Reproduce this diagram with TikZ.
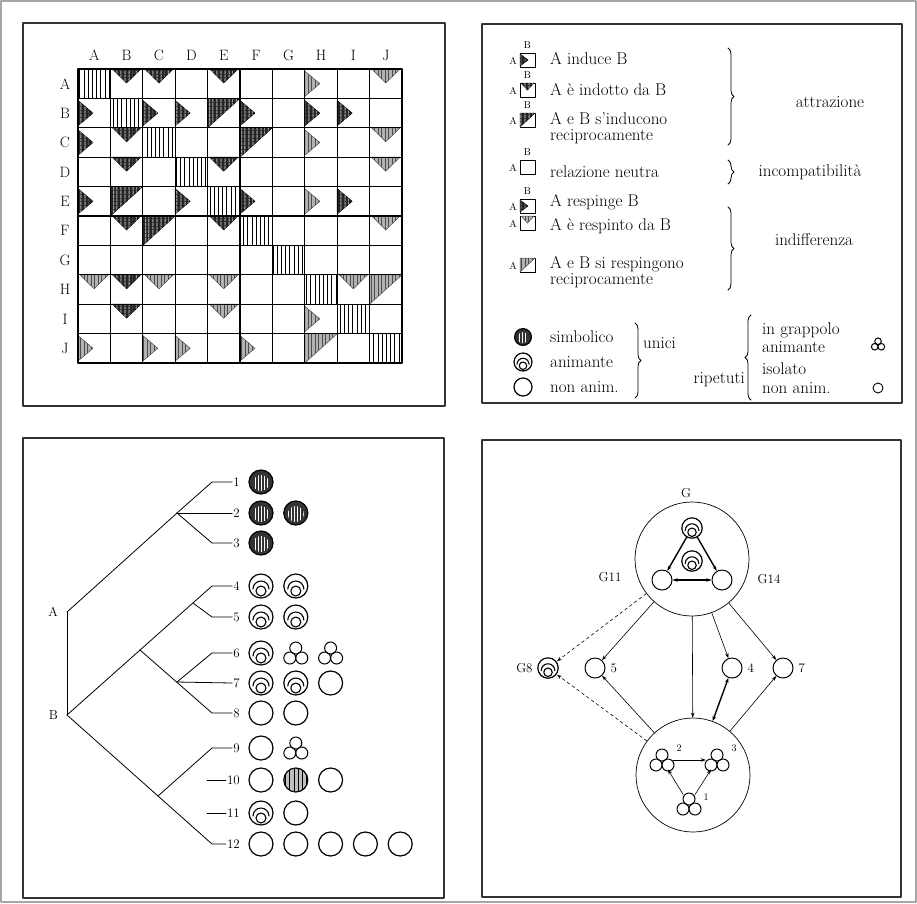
\documentclass[tikz,border=0pt]{standalone}
\usetikzlibrary{arrows.meta,patterns.meta,decorations.pathreplacing,positioning}

\begin{document}
\begin{tikzpicture}[
  x=1pt, y=-1pt,
  line cap=round,
  line join=round,
  panel/.style={line width=1.1pt, draw=black!80},
  gridline/.style={line width=1.1pt},
  hatch/.style={pattern={Lines[angle=90,distance=4.2pt,line width=0.9pt]}, pattern color=black},
  dark/.style={fill=black!85, draw=black, line width=0.5pt,
    postaction={pattern={Lines[angle=90,distance=4pt,line width=0.5pt]}, pattern color=white}},
  light/.style={fill=black!30, draw=black!70, line width=0.5pt,
    postaction={pattern={Lines[angle=90,distance=3.5pt,line width=0.6pt]}, pattern color=black!70}},
  lab/.style={font=\fontsize{15}{15}\selectfont, inner sep=0pt},
  tiny/.style={font=\fontsize{10}{10}\selectfont, inner sep=0pt},
  leg/.style={font=\fontsize{17}{16}\selectfont, inner sep=0pt, anchor=west, align=left},
  num/.style={font=\fontsize{13}{13}\selectfont, inner sep=1pt, anchor=east},
  glab/.style={font=\fontsize{13}{13}\selectfont, inner sep=0pt},
  supnum/.style={font=\fontsize{10}{10}\selectfont, inner sep=0pt},
  curly/.style={decorate, decoration={brace, amplitude=6pt}, line width=0.8pt},
  branch/.style={line width=0.8pt},
  gspot/.style={circle, minimum size=22pt, inner sep=0pt},
  gnode/.style={circle, draw, line width=1pt, minimum size=20pt, inner sep=0pt},
  big/.style={circle, draw, line width=0.7pt, minimum size=114pt, inner sep=0pt},
  arr/.style={-{Stealth[length=5pt,width=3.5pt]}, line width=0.6pt},
  fat/.style={line width=1.4pt},
  anim/.pic={
    \draw[line width=1.2pt] (0,0) circle (12);
    \draw[line width=1.1pt] (-8,3) arc[start angle=180,end angle=360,radius=8];
    \draw[line width=1.1pt] (0,5) circle (5);
  },
  symb/.pic={
    \fill[black!80] (0,0) circle (12);
    \fill[pattern={Lines[angle=90,distance=3pt,line width=0.6pt]}, pattern color=white] (0,1) circle (8);
    \draw[line width=1.2pt] (0,0) circle (12);
  },
  hatc/.pic={
    \fill[black!25] (0,0) circle (12);
    \fill[hatch] (0,0) circle (12);
    \draw[line width=1.2pt] (0,0) circle (12);
  },
  plain/.pic={\draw[line width=1.2pt] (0,0) circle (12);},
  clus/.pic={
    \draw[line width=1pt] (0,-5) circle (6);
    \draw[line width=1pt] (-6,5) circle (6);
    \draw[line width=1pt] (6,5) circle (6);
  }
]
  \useasboundingbox (0,0) rectangle (917,903);
  \draw[black!35, line width=1.5pt] (1,1) rectangle (916,902);

  % Riquadri
  \draw[panel] (23,23) rectangle (445,406);
  \draw[panel] (482,24) rectangle (902,403);
  \draw[panel] (23,438) rectangle (444,898);
  \draw[panel] (482,440) rectangle (901,897);

  % Matrice
  \def\cw{32.4}
  \def\ch{29.4}
  \foreach \i in {0,...,9}
    \fill[hatch] ({78+\i*\cw},{69+\i*\ch}) rectangle ++(\cw,\ch);
  \foreach \c/\r in {1/0,2/0,4/0,1/2,1/3,4/3,1/5,4/5,1/7,1/8}
    \fill[dark] ({78+\c*\cw+2},{69+\r*\ch}) -- ++(28.4,0) -- ++(-14.2,14) -- cycle;
  \foreach \c/\r in {9/0,9/2,9/3,9/5,0/7,2/7,4/7,8/7,4/8}
    \fill[light] ({78+\c*\cw+2},{69+\r*\ch}) -- ++(28.4,0) -- ++(-14.2,14) -- cycle;
  \foreach \c/\r in {0/1,2/1,3/1,5/1,7/1,8/1,0/2,0/4,3/4,5/4,8/4}
    \fill[dark] ({78+\c*\cw},{69+\r*\ch+2}) -- ++(0,25.4) -- ++(15,-12.7) -- cycle;
  \foreach \c/\r in {7/0,7/2,7/4,7/8,0/9,2/9,3/9,5/9}
    \fill[light] ({78+\c*\cw},{69+\r*\ch+2}) -- ++(0,25.4) -- ++(15,-12.7) -- cycle;
  \foreach \c/\r in {4/1,5/2,1/4,2/5}
    \fill[dark] ({78+\c*\cw},{69+\r*\ch}) -- ++(\cw,0) -- ++(-\cw,\ch) -- cycle;
  \foreach \c/\r in {9/7,7/9}
    \fill[light] ({78+\c*\cw},{69+\r*\ch}) -- ++(\cw,0) -- ++(-\cw,\ch) -- cycle;
  \foreach \i in {0,...,10} {
    \draw[gridline] ({78+\i*\cw},69) -- ({78+\i*\cw},363);
    \draw[gridline] (78,{69+\i*\ch}) -- (402,{69+\i*\ch});
  }
  \foreach \l [count=\i from 0] in {A,B,C,D,E,F,G,H,I,J} {
    \node[lab] (col\i) at ({78+(\i+0.5)*\cw},55) {\l};
    \node[lab] (row\i) at (65,{69+(\i+0.5)*\ch}) {\l};
  }

  % Legenda: caselle
  \foreach \y in {53,83,113,160,199,216,258}
    \draw[line width=0.9pt] (520,\y) rectangle ++(15,14);
  \foreach \y in {53,199}
    \fill[dark] (520,\y+1) -- ++(0,12) -- ++(8,-6) -- cycle;
  \fill[dark] (521,83) -- (534,83) -- (527.5,90) -- cycle;
  \fill[light] (521,216) -- (534,216) -- (527.5,223) -- cycle;
  \fill[dark] (520,113) -- (535,113) -- (520,127) -- cycle;
  \fill[light] (520,258) -- (535,258) -- (520,272) -- cycle;
  \foreach \y in {53,83,113,160,199,216,258}
    \node[tiny] at (513,\y+8) {A};
  \foreach \y in {53,83,113,160,199}
    \node[tiny] at (527.5,\y-8) {B};

  \node[leg] (t1) at (550,59) {A induce B};
  \node[leg] (t2) at (550,90) {A è indotto da B};
  \node[leg] (t3) at (550,128) {A e B s'inducono\\reciprocamente};
  \node[leg] (t4) at (550,172) {relazione neutra};
  \node[leg] (t5) at (550,202) {A respinge B};
  \node[leg] (t6) at (550,226) {A è respinto da B};
  \node[leg] (t7) at (550,272) {A e B si respingono\\reciprocamente};

  \draw[curly] (728,48) -- (728,145);
  \draw[curly] (728,160) -- (728,184);
  \draw[curly] (728,207) -- (728,290);
  \node[leg, anchor=center] (attr) at (830,102) {attrazione};
  \node[leg, anchor=center] (inco) at (810,172) {incompatibilità};
  \node[leg, anchor=center] (indi) at (814,240) {indifferenza};

  % Legenda: simboli
  \pic[scale=0.7] at (523,337) {symb};
  \pic[scale=0.75] at (523,362) {anim};
  \draw[line width=1.2pt] (523,387) circle (9);
  \node[leg] (s1) at (550,337) {simbolico};
  \node[leg] (s2) at (550,362) {animante};
  \node[leg] (s3) at (550,387) {non anim.};
  \draw[curly] (635,323) -- (635,398);
  \node[leg] (uni) at (643,343) {unici};
  \node[leg, anchor=east] (rip) at (745,380) {ripetuti};
  \draw[curly] (751,400) -- (751,315);
  \node[leg] (r1) at (762,330) {in grappolo};
  \node[leg] (r2) at (762,347) {animante};
  \node[leg] (r3) at (762,369) {isolato};
  \node[leg] (r4) at (762,388) {non anim.};
  \pic[scale=0.55] at (878,344) {clus};
  \draw[line width=0.9pt] (878,388) circle (5);

  % Albero
  \coordinate (A) at (67,612);
  \coordinate (B) at (67,715);
  \coordinate (jA) at (177,513);
  \coordinate (j45) at (193,603);
  \coordinate (j68) at (140,650);
  \coordinate (j678) at (177,682);
  \coordinate (j912) at (158,796);
  \node[glab, anchor=east] (labA) at (58,612) {A};
  \node[glab, anchor=east] (labB) at (58,715) {B};
  \foreach \i/\y in {1/482,2/513,3/543,4/586,5/617,6/653,7/683,8/713,9/748,10/780,11/813,12/844} {
    \node[num] (n\i) at (241,\y) {\i};
    \coordinate (l\i) at (212,\y);
  }
  \coordinate (t10) at (207,780);
  \coordinate (t11) at (207,813);
  \draw[branch] (A) -- (B);
  \draw[branch] (A) -- (jA);
  \draw[branch] (jA) -- (l1) -- (n1.west);
  \draw[branch] (jA) -- (n2.west);
  \draw[branch] (jA) -- (l3) -- (n3.west);
  \draw[branch] (B) -- (l4) -- (n4.west);
  \draw[branch] (j45) -- (l5) -- (n5.west);
  \draw[branch] (j68) -- (l8) -- (n8.west);
  \draw[branch] (j678) -- (l6) -- (n6.west);
  \draw[branch] (j678) -- (n7.west);
  \draw[branch] (B) -- (l12) -- (n12.west);
  \draw[branch] (j912) -- (l9) -- (n9.west);
  \draw[branch] (t10) -- (n10.west);
  \draw[branch] (t11) -- (n11.west);

  \foreach \y/\row in {482/{symb},513/{symb,symb},543/{symb},586/{anim,anim},
      617/{anim,anim},653/{anim,clus,clus},683/{anim,anim,plain},713/{plain,plain},
      748/{plain,clus},780/{plain,hatc,plain},813/{anim,plain},
      844/{plain,plain,plain,plain,plain}}
    \foreach \s [count=\k] in \row
      \pic at ({261+(\k-1)*34.8},\y) {\s};

  % Grafo
  \node[big] (Gt) at (692,559) {};
  \node[big] (Gb) at (693,775) {};
  \node[glab, above=4pt of Gt, xshift=-6pt] (lG) {G};
  \node[glab] (lG11) at (610,577) {G11};
  \node[glab] (lG14) at (769,579) {G14};

  \node[gspot] (ga) at (692,528) {};
  \node[gspot] (gm) at (692,561) {};
  \pic[scale=0.85] at (ga) {anim};
  \pic[scale=0.85] at (gm) {anim};
  \node[gnode] (gl) at (662,580) {};
  \node[gnode] (gr) at (722,580) {};
  \draw[arr, fat] (ga) -- (gl);
  \draw[arr, fat] (ga) -- (gr);
  \draw[arr, fat, {Stealth[length=5pt,width=3.5pt]}-{Stealth[length=5pt,width=3.5pt]}] (gl) -- (gr);

  \node[gspot] (g8) at (548,668) {};
  \pic[scale=0.85] at (g8) {anim};
  \node[gnode] (c5) at (595,668) {};
  \node[gnode] (c4) at (732,668) {};
  \node[gnode] (c7) at (783,668) {};
  \node[glab, left=4pt of g8] (lG8) {G8};
  \node[glab, right=5pt of c5] (l5) {5};
  \node[glab, right=5pt of c4] (l4) {4};
  \node[glab, right=5pt of c7] (l7) {7};

  \node[gspot] (k2) at (662,760) {};
  \node[gspot] (k3) at (717,760) {};
  \node[gspot] (k1) at (689,804) {};
  \pic at (k2) {clus};
  \pic at (k3) {clus};
  \pic at (k1) {clus};
  \node[supnum] (s2) at (679,748) {2};
  \node[supnum] (s3) at (734,748) {3};
  \node[supnum] (s1) at (706,797) {1};
  \draw[arr] (k2) -- (k3);
  \draw[arr] (k1) -- (k2);
  \draw[arr] (k1) -- (k3);

  \draw[arr, dashed] (Gt) -- (g8);
  \draw[arr] (Gt) -- (c5);
  \draw[arr] (Gt) -- (Gb);
  \draw[arr] (Gt) -- (c4);
  \draw[arr] (Gt) -- (c7);
  \draw[arr, dashed] (Gb) -- (g8);
  \draw[arr] (Gb) -- (c5);
  \draw[arr, fat, {Stealth[length=5pt,width=3.5pt]}-{Stealth[length=5pt,width=3.5pt]}] (Gb) -- (c4);
  \draw[arr] (Gb) -- (c7);
\end{tikzpicture}
\end{document}
